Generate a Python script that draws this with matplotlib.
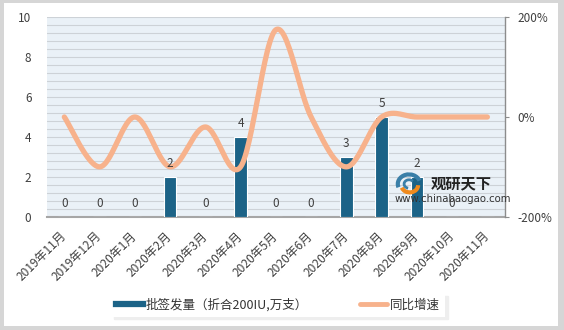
import numpy as np
import matplotlib
matplotlib.use("Agg")
import matplotlib.pyplot as plt
from matplotlib.lines import Line2D
from matplotlib.patches import Rectangle, Arc

plt.rcParams['font.family'] = ['Noto Sans CJK SC', 'DejaVu Sans']

categories = ["2019年11月", "2019年12月", "2020年1月", "2020年2月", "2020年3月",
              "2020年4月", "2020年5月", "2020年6月", "2020年7月", "2020年8月",
              "2020年9月", "2020年10月", "2020年11月"]
batch_values = [0, 0, 0, 2, 0, 4, 0, 0, 3, 5, 2, 0, np.nan]
growth_pct = [0, -100, 0, -100, -20, -100, 175, 0, -100, 0, 0, 0, 0]
bar_label = "批签发量（折合200IU,万支）"
line_label = "同比增速"

BAR_C = "#1C6387"
LINE_C = "#F7B28C"
TXT_C = "#404040"

W, H = 564, 330
fig = plt.figure(figsize=(W / 100, H / 100), dpi=100)
fig.patch.set_facecolor("#D6D6D6")
fig.add_artist(Rectangle((4 / W, 4 / H), (558 - 4) / W, (327 - 4) / H,
                         transform=fig.transFigure, facecolor="white",
                         edgecolor="none", zorder=0))

L, R, T, B = 46.7, 505, 17.3, 216.7
ax = fig.add_axes([L / W, 1 - B / H, (R - L) / W, (B - T) / H])
ax.set_facecolor("#EAF1F7")
ax2 = ax.twinx()

x = np.arange(len(categories))
bv = np.array(batch_values, dtype=float)
ax.bar(x, np.nan_to_num(bv), width=0.35, color=BAR_C, edgecolor="white",
       linewidth=0.8, zorder=3)
ax.set_xlim(-0.5, len(categories) - 0.5)
ax.set_ylim(0, 10)
ax.set_yticks(np.arange(0, 10.1, 2))
ax.set_yticks(np.arange(0, 10.01, 0.4), minor=True)
ax.grid(which="both", axis="y", color="#CDD2D7", linewidth=0.8, zorder=1)
ax.set_axisbelow(True)
ax.tick_params(axis="y", which="both", length=0, pad=11, labelsize=8.5,
               labelcolor=TXT_C)
for s in ["top", "right", "left"]:
    ax.spines[s].set_visible(False)
ax.spines["bottom"].set_color("#A6A6A6")
ax.spines["bottom"].set_linewidth(1.5)
ax.set_xticks(x)
ax.set_xticklabels(categories, rotation=45, ha="right", va="center",
                   rotation_mode="anchor", fontsize=8.6, color=TXT_C)
ax.tick_params(axis="x", length=0, pad=12.5)

# smoothed line (Bezier smoothing through the data points)
y = np.array(growth_pct, dtype=float)
n = len(y)
xs, ys = [], []
for i in range(n - 1):
    p0 = np.array([x[max(i - 1, 0)], y[max(i - 1, 0)]])
    p1 = np.array([x[i], y[i]])
    p2 = np.array([x[i + 1], y[i + 1]])
    p3 = np.array([x[min(i + 2, n - 1)], y[min(i + 2, n - 1)]])
    c1 = p1 + (p2 - p0) / 6
    c2 = p2 - (p3 - p1) / 6
    t = np.linspace(0, 1, 30)[:, None]
    pts = ((1 - t) ** 3) * p1 + 3 * ((1 - t) ** 2) * t * c1 + 3 * (1 - t) * t ** 2 * c2 + t ** 3 * p2
    xs.extend(pts[:, 0]); ys.extend(pts[:, 1])
ax2.plot(xs, ys, color=LINE_C, linewidth=3.8, solid_capstyle="round", zorder=4)
ax2.set_ylim(-200, 200)
ax2.set_yticks([-200, 0, 200])
ax2.set_yticklabels(["-200%", "0%", "200%"])
ax2.tick_params(axis="y", length=3, width=0.8, color="#8C8C8C", pad=6,
                labelsize=8.5, labelcolor=TXT_C)
for s in ["top", "left", "bottom"]:
    ax2.spines[s].set_visible(False)
ax2.spines["right"].set_color("#8C8C8C")
ax2.spines["right"].set_linewidth(1.0)

# data labels
for i, v in enumerate(batch_values):
    if np.isnan(v):
        continue
    ax2.annotate(f"{int(v)}", xy=(i, v), xycoords=ax.transData,
                 xytext=(0, 9.8), textcoords="offset points", ha="center",
                 va="center", fontsize=8.5, color=TXT_C, zorder=6)

# legend
handles = [Line2D([], [], color=BAR_C, linewidth=4.5),
           Line2D([], [], color=LINE_C, linewidth=3.5, solid_capstyle="round")]
fig.legend(handles, [bar_label, line_label], loc="center",
           bbox_to_anchor=(278 / W, 1 - 305 / H), ncol=2, frameon=True,
           fontsize=9, handlelength=2.1, handletextpad=0.25, columnspacing=4.2,
           fancybox=False, edgecolor="none", facecolor="white",
           shadow={"color": "#EEEEEE", "alpha": 1.0}, borderpad=0.4,
           borderaxespad=0, labelcolor="#333333")

# watermark
fig.text(431 / W, 1 - 183 / H, "观研天下", fontsize=11, fontweight="bold",
         color="#222222", va="center", ha="left", zorder=10)
fig.text(395 / W, 1 - 199 / H, "www.chinabaogao.com", fontsize=7.3,
         color="#333333", va="center", ha="left", zorder=10,
         family=["DejaVu Sans"])
lax = fig.add_axes([395 / W, 1 - 196 / H, 28 / W, 24 / H])
lax.set_xlim(-1, 1); lax.set_ylim(-1, 1); lax.axis("off")
lax.add_patch(Arc((0, 0), 1.6, 1.6, theta1=20, theta2=200, color="#3A7FA8", lw=3))
lax.add_patch(Arc((0.05, -0.1), 1.2, 1.2, theta1=200, theta2=360, color="#F08A1C", lw=3))
lax.add_patch(Arc((0, 0), 0.7, 0.7, theta1=40, theta2=260, color="#3A7FA8", lw=2))

fig.savefig("out.png", dpi=100, facecolor=fig.get_facecolor())
